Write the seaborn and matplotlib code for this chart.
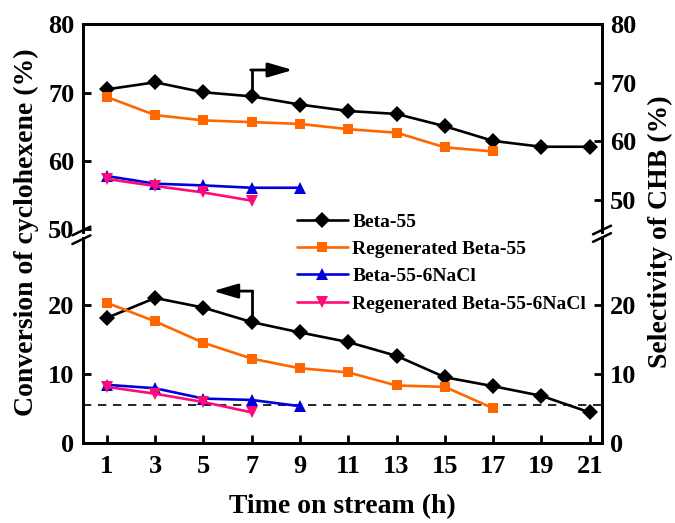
import numpy as np
import pandas as pd
import matplotlib.pyplot as plt
import seaborn as sns
from matplotlib.lines import Line2D

# Data

time_beta = [1, 3, 5, 7, 9, 11, 13, 15, 17, 19, 21]
time_regen = [1, 3, 5, 7, 9, 11, 13, 15, 17]
time_nacl = [1, 3, 5, 7, 9]
time_regen_nacl = [1, 3, 5, 7]

# Selectivity of CHB (%), right axis, top panel
sel_beta = [68.9, 70.1, 68.4, 67.7, 66.3, 65.2, 64.7, 62.6, 60.1, 59.1, 59.1]
sel_regen = [67.6, 64.5, 63.6, 63.3, 63.0, 62.1, 61.5, 59.0, 58.3]
sel_nacl = [54.1, 52.8, 52.5, 52.1, 52.1]
sel_regen_nacl = [53.6, 52.4, 51.3, 49.9]

# Conversion of cyclohexene (%), left axis, bottom panel
conv_beta = [18.1, 21.0, 19.6, 17.5, 16.0, 14.6, 12.6, 9.5, 8.2, 6.8, 4.4]
conv_regen = [20.3, 17.6, 14.5, 12.2, 10.8, 10.2, 8.3, 8.1, 5.0]
conv_nacl = [8.4, 7.9, 6.4, 6.2, 5.3]
conv_regen_nacl = [8.1, 7.1, 5.9, 4.4]

ref_level = 5.4

labels = ["Beta-55", "Regenerated Beta-55", "Beta-55-6NaCl", "Regenerated Beta-55-6NaCl"]
colors = ["#000000", "#FF6600", "#0000DD", "#FF0A78"]
markers = ["D", "s", "^", "v"]
msizes = [8.5, 7, 9, 9]

x_ticks = [1, 3, 5, 7, 9, 11, 13, 15, 17, 19, 21]

# Arrow annotations (x, y of start, y of corner, x of tip)
arrow_sel = (7, 67.7, 72.2, 8.7)
arrow_conv = (7, 17.5, 22.0, 5.4)

# Style

sns.set_style("ticks")
plt.rcParams["font.family"] = ["Liberation Serif", "DejaVu Serif"]
plt.rcParams["font.weight"] = "bold"
plt.rcParams["axes.linewidth"] = 2
plt.rcParams["xtick.direction"] = "in"
plt.rcParams["ytick.direction"] = "in"
plt.rcParams["text.color"] = "black"
plt.rcParams["axes.labelcolor"] = "black"
plt.rcParams["xtick.color"] = "black"
plt.rcParams["ytick.color"] = "black"
plt.rcParams["axes.edgecolor"] = "black"

W, H = 675, 523
fig = plt.figure(figsize=(W / 100, H / 100), dpi=100)

def fx(px):
    return px / W

def fy(py):
    return 1 - py / H

x_left, x_right = 82.7, 601.7
top_y0, top_y1 = 24.3, 232
bot_y0, bot_y1 = 238, 442.7

ax_top = fig.add_axes([fx(x_left), fy(top_y1), fx(x_right) - fx(x_left), (top_y1 - top_y0) / H])
ax_bot = fig.add_axes([fx(x_left), fy(bot_y1), fx(x_right) - fx(x_left), (bot_y1 - bot_y0) / H])
ax_top_r = ax_top.twinx()
ax_bot_r = ax_bot.twinx()

# Top panel: selectivity on right axis

top_sets = [(time_beta, sel_beta), (time_regen, sel_regen), (time_nacl, sel_nacl), (time_regen_nacl, sel_regen_nacl)]
for (t, v), c, m, ms in zip(top_sets, colors, markers, msizes):
    sns.lineplot(x=t, y=v, ax=ax_top_r, color=c, marker=m, markersize=ms, linewidth=1.9,
                 markeredgecolor=c, markeredgewidth=0, legend=False)

# Bottom panel: conversion on left axis

bot_sets = [(time_beta, conv_beta), (time_regen, conv_regen), (time_nacl, conv_nacl), (time_regen_nacl, conv_regen_nacl)]
for (t, v), c, m, ms, lab in zip(bot_sets, colors, markers, msizes, labels):
    sns.lineplot(x=t, y=v, ax=ax_bot, color=c, marker=m, markersize=ms, linewidth=1.9,
                 markeredgecolor=c, markeredgewidth=0, label=lab)

ax_bot.axhline(ref_level, color="black", linestyle=(0, (5, 4)), linewidth=1.2, zorder=1)

# Limits and ticks

for ax in [ax_top, ax_bot, ax_top_r, ax_bot_r]:
    ax.set_xlim(0, 21.5)
    ax.set_xlabel("")
    ax.set_ylabel("")
    ax.tick_params(width=2, length=6, labelsize=19, pad=6, colors="black")

ax_top.set_ylim(49.6, 80)
ax_top.set_yticks([50, 60, 70, 80])
ax_top_r.set_ylim(44.55, 80)
ax_top_r.set_yticks([50, 60, 70, 80])
ax_bot.set_ylim(0, 29.7)
ax_bot.set_yticks([0, 10, 20])
ax_bot_r.set_ylim(0, 29.7)
ax_bot_r.set_yticks([0, 10, 20])

ax_top.tick_params(axis="x", bottom=False, top=False, labelbottom=False)
ax_top_r.tick_params(axis="x", bottom=False, top=False, labelbottom=False)
ax_bot_r.tick_params(axis="x", bottom=False, top=False, labelbottom=False)
ax_bot.set_xticks(x_ticks)
ax_bot.tick_params(axis="x", top=False, pad=9)
ax_top.tick_params(axis="y", right=False)
ax_bot.tick_params(axis="y", right=False)

for ax in [ax_top, ax_top_r]:
    ax.spines["bottom"].set_visible(False)
for ax in [ax_bot, ax_bot_r]:
    ax.spines["top"].set_visible(False)
for ax in [ax_top, ax_top_r, ax_bot, ax_bot_r]:
    for s in ax.spines.values():
        s.set_linewidth(2)
        s.set_color("black")

# Arrows

head = "-|>,head_length=0.75,head_width=0.22"
ax_top_r.plot([arrow_sel[0], arrow_sel[0]], [arrow_sel[1], arrow_sel[2]], color="black", lw=2)
ax_top_r.annotate("", xy=(arrow_sel[3], arrow_sel[2]), xytext=(arrow_sel[0] - 0.04, arrow_sel[2]),
                  arrowprops=dict(arrowstyle=head, color="black", lw=2,
                                  mutation_scale=20, shrinkA=0, shrinkB=0))
ax_bot.plot([arrow_conv[0], arrow_conv[0]], [arrow_conv[1], arrow_conv[2]], color="black", lw=2)
ax_bot.annotate("", xy=(arrow_conv[3], arrow_conv[2]), xytext=(arrow_conv[0] + 0.04, arrow_conv[2]),
                arrowprops=dict(arrowstyle=head, color="black", lw=2,
                                mutation_scale=20, shrinkA=0, shrinkB=0))

# Axis break marks

for xs, yu, yl in [(81.4, 231, 239.7), (602, 230, 237.5)]:
    for yc in [yu, yl]:
        fig.add_artist(Line2D([fx(xs - 9), fx(xs + 9)], [fy(yc + 4.3), fy(yc - 4.3)],
                              color="black", lw=1.8))

# Legend

handles, labs = ax_bot.get_legend_handles_labels()
ax_bot.get_legend().remove()
fig.legend(handles, labs, loc="upper left", bbox_to_anchor=(fx(297), fy(213)),
           frameon=False, fontsize=14, handlelength=2.6, handletextpad=0.25,
           labelspacing=0.5, borderpad=0, borderaxespad=0)

# Axis labels

fig.text(fx(342), fy(507), "Time on stream (h)", ha="center", va="center", fontsize=20, fontweight="bold")
fig.text(fx(26), fy(232), "Conversion of cyclohexene (%)", ha="center", va="center",
         rotation=90, fontsize=20, fontweight="bold")
fig.text(fx(660), fy(232), "Selectivity of CHB (%)", ha="center", va="center",
         rotation=90, fontsize=20, fontweight="bold")

fig.savefig("out.png", dpi=100)
